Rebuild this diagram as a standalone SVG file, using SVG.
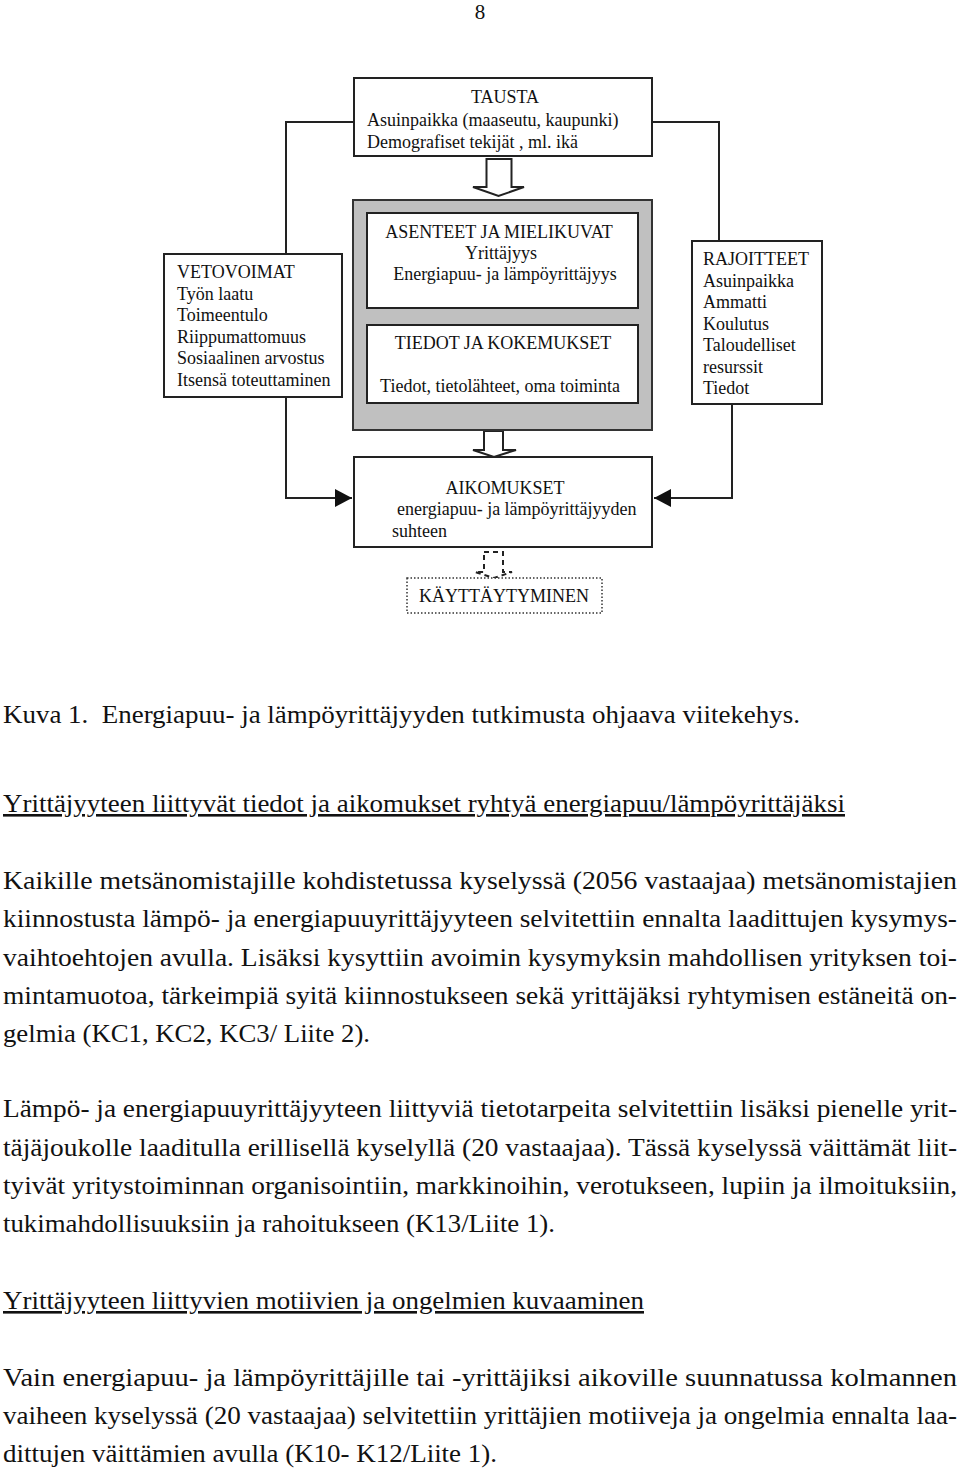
<svg xmlns="http://www.w3.org/2000/svg" width="960" height="1470" viewBox="0 0 960 1470">
<style>
.t{font-family:"Liberation Serif","Times New Roman",serif;font-size:18px;fill:#111}
.b{font-family:"Liberation Serif","Times New Roman",serif;font-size:26px;fill:#111}
.box{fill:#fff;stroke:#222;stroke-width:2}
.conn{stroke:#222;stroke-width:2;fill:none}
.hollow{fill:#fff;stroke:#222;stroke-width:2;stroke-linejoin:miter}
.u{text-decoration:underline}
</style>
<defs>
<marker id="arr" markerUnits="userSpaceOnUse" markerWidth="18" markerHeight="18" refX="17" refY="9" orient="auto">
<path d="M0,0 L17,9 L0,18 z" fill="#111"/>
</marker>
</defs>
<rect width="960" height="1470" fill="#fff"/>
<text class="t" x="480" y="19" text-anchor="middle" style="font-size:21px">8</text>

<g id="connectors">
<polyline class="conn" points="353,122 286,122 286,254"/>
<polyline class="conn" points="286,397 286,498 352,498" marker-end="url(#arr)"/>
<polyline class="conn" points="652,122 719,122 719,241"/>
<polyline class="conn" points="732,404 732,498 654,498" marker-end="url(#arr)"/>
<polygon class="hollow" points="486.5,159 511.5,159 511.5,187 524,187 498.5,196 473,187 486.5,187"/>
<polygon class="hollow" points="484,431 503,431 503,450 516,450 494,457 473,450 484,450"/>
<polygon class="hollow" style="stroke-dasharray:5,4" points="484,552 503,552 503,572 512,572 494,578 475,572 484,572"/>
</g>

<g id="tausta">
<rect class="box" x="354" y="78" width="298" height="78"/>
<text class="t" x="505" y="103" text-anchor="middle">TAUSTA</text>
<text class="t" x="367" y="126">Asuinpaikka (maaseutu, kaupunki)</text>
<text class="t" x="367" y="148">Demografiset tekijät , ml. ikä</text>
</g>

<g id="keski">
<rect x="353" y="200" width="299" height="230" fill="#c0c0c0" stroke="#333" stroke-width="2"/>
</g>

<g id="asenteet">
<rect class="box" x="367" y="213" width="271" height="95"/>
<text class="t" x="499" y="238" text-anchor="middle">ASENTEET JA MIELIKUVAT</text>
<text class="t" x="501" y="259" text-anchor="middle">Yrittäjyys</text>
<text class="t" x="505" y="280" text-anchor="middle">Energiapuu- ja lämpöyrittäjyys</text>
</g>

<g id="tiedot">
<rect class="box" x="367" y="325" width="271" height="78"/>
<text class="t" x="503" y="349" text-anchor="middle">TIEDOT JA KOKEMUKSET</text>
<text class="t" x="500" y="392" text-anchor="middle">Tiedot, tietolähteet, oma toiminta</text>
</g>

<g id="vetovoimat">
<rect class="box" x="164" y="254" width="178" height="143"/>
<text class="t" x="177" y="278">VETOVOIMAT</text>
<text class="t" x="177" y="300">Työn laatu</text>
<text class="t" x="177" y="321">Toimeentulo</text>
<text class="t" x="177" y="343">Riippumattomuus</text>
<text class="t" x="177" y="364">Sosiaalinen arvostus</text>
<text class="t" x="177" y="386">Itsensä toteuttaminen</text>
</g>

<g id="rajoitteet">
<rect class="box" x="692" y="241" width="130" height="163"/>
<text class="t" x="703" y="265">RAJOITTEET</text>
<text class="t" x="703" y="287">Asuinpaikka</text>
<text class="t" x="703" y="308">Ammatti</text>
<text class="t" x="703" y="330">Koulutus</text>
<text class="t" x="703" y="351">Taloudelliset</text>
<text class="t" x="703" y="373">resurssit</text>
<text class="t" x="703" y="394">Tiedot</text>
</g>

<g id="aikomukset">
<rect class="box" x="354" y="457" width="298" height="90"/>
<text class="t" x="505" y="494" text-anchor="middle">AIKOMUKSET</text>
<text class="t" x="397" y="515">energiapuu- ja lämpöyrittäjyyden</text>
<text class="t" x="392" y="537">suhteen</text>
</g>

<g id="kayttaytyminen">
<rect x="407" y="578" width="195" height="35" fill="#fff" stroke="#333" stroke-width="1.5" stroke-dasharray="1.5,2"/>
<text class="t" x="504" y="602" text-anchor="middle">KÄYTTÄYTYMINEN</text>
</g>

<g id="teksti">
<text class="b" x="3" y="723" textLength="797" lengthAdjust="spacingAndGlyphs" xml:space="preserve">Kuva 1.  Energiapuu- ja lämpöyrittäjyyden tutkimusta ohjaava viitekehys.</text>
<text class="b u" x="3" y="812" textLength="842" lengthAdjust="spacingAndGlyphs">Yrittäjyyteen liittyvät tiedot ja aikomukset ryhtyä energiapuu/lämpöyrittäjäksi</text>

<text class="b" x="3" y="889" textLength="954" lengthAdjust="spacingAndGlyphs">Kaikille metsänomistajille kohdistetussa kyselyssä (2056 vastaajaa) metsänomistajien</text>
<text class="b" x="3" y="927" textLength="954" lengthAdjust="spacingAndGlyphs">kiinnostusta lämpö- ja energiapuuyrittäjyyteen selvitettiin ennalta laadittujen kysymys-</text>
<text class="b" x="3" y="966" textLength="954" lengthAdjust="spacingAndGlyphs">vaihtoehtojen avulla. Lisäksi kysyttiin avoimin kysymyksin mahdollisen yrityksen toi-</text>
<text class="b" x="3" y="1004" textLength="954" lengthAdjust="spacingAndGlyphs">mintamuotoa, tärkeimpiä syitä kiinnostukseen sekä yrittäjäksi ryhtymisen estäneitä on-</text>
<text class="b" x="3" y="1042" textLength="367" lengthAdjust="spacingAndGlyphs">gelmia (KC1, KC2, KC3/ Liite 2).</text>

<text class="b" x="3" y="1117" textLength="954" lengthAdjust="spacingAndGlyphs">Lämpö- ja energiapuuyrittäjyyteen liittyviä tietotarpeita selvitettiin lisäksi pienelle yrit-</text>
<text class="b" x="3" y="1156" textLength="954" lengthAdjust="spacingAndGlyphs">täjäjoukolle laaditulla erillisellä kyselyllä (20 vastaajaa). Tässä kyselyssä väittämät liit-</text>
<text class="b" x="3" y="1194" textLength="954" lengthAdjust="spacingAndGlyphs">tyivät yritystoiminnan organisointiin, markkinoihin, verotukseen, lupiin ja ilmoituksiin,</text>
<text class="b" x="3" y="1232" textLength="552" lengthAdjust="spacingAndGlyphs">tukimahdollisuuksiin ja rahoitukseen (K13/Liite 1).</text>

<text class="b u" x="3" y="1309" textLength="641" lengthAdjust="spacingAndGlyphs">Yrittäjyyteen liittyvien motiivien ja ongelmien kuvaaminen</text>

<text class="b" x="3" y="1386" textLength="954" lengthAdjust="spacingAndGlyphs">Vain energiapuu- ja lämpöyrittäjille tai -yrittäjiksi aikoville suunnatussa kolmannen</text>
<text class="b" x="3" y="1424" textLength="954" lengthAdjust="spacingAndGlyphs">vaiheen kyselyssä (20 vastaajaa) selvitettiin yrittäjien motiiveja ja ongelmia ennalta laa-</text>
<text class="b" x="3" y="1462" textLength="494" lengthAdjust="spacingAndGlyphs">dittujen väittämien avulla (K10- K12/Liite 1).</text>
</g>
</svg>
